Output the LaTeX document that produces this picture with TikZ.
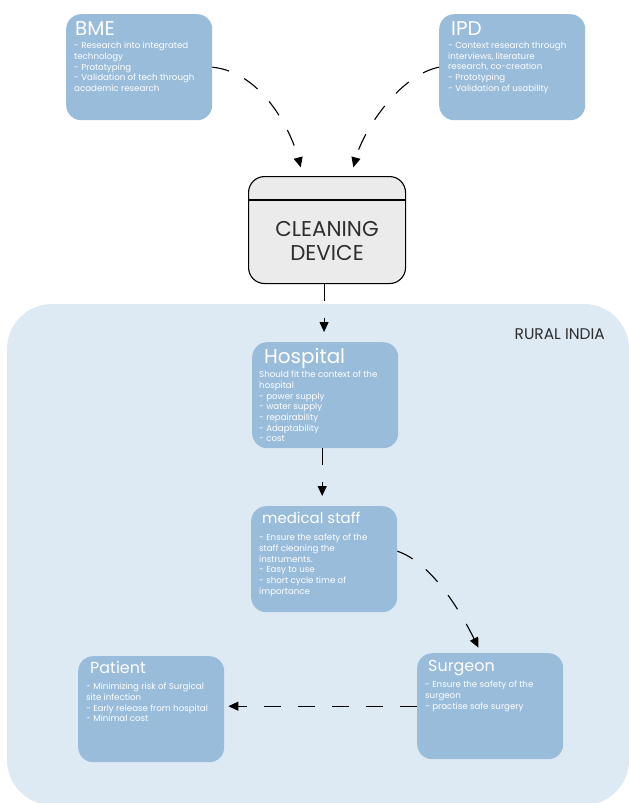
\documentclass[tikz,border=0pt]{standalone}
\usepackage{fontspec}
\setmainfont{Poppins}
\usetikzlibrary{arrows.meta,positioning,calc}
\definecolor{cardblue}{HTML}{99BCDB}
\definecolor{ruralbg}{HTML}{DDEAF4}
\definecolor{devicegray}{HTML}{EBEBEB}
\definecolor{inkgray}{HTML}{2E2E2E}
\tikzset{
    card/.style={fill=cardblue, rounded corners=15bp, anchor=north west,
        minimum width=146bp, minimum height=106bp, inner sep=0pt},
    cardhead/.style={anchor=base west, text=white, inner sep=0pt,
        font=\fontsize{20}{22}\selectfont},
    cardtext/.style={anchor=north west, text=white, inner sep=0pt, align=left,
        font=\fontsize{8.7}{10.7}\selectfont},
    devicebox/.style={draw=black, line width=1.1bp, fill=devicegray,
        rounded corners=16bp, anchor=north west, inner sep=0pt,
        minimum width=157bp, minimum height=107bp},
    linkarrow/.style={-{Triangle[length=10bp, width=9bp]}, line width=1.1bp,
        dash pattern=on 17bp off 17bp}
}

\begin{document}
\begin{tikzpicture}[x=1bp, y=-1bp]
\useasboundingbox (0,0) rectangle (629,803);

% rural area behind the lower half
\fill[ruralbg, rounded corners=45bp] (7,304) rectangle (629,805);
\node[anchor=base east, inner sep=0pt, text=inkgray,
    font=\fontsize{15.5}{17}\selectfont] (rural) at (605,339) {RURAL INDIA};

% disciplines
\node[card] (bme) at (66,14) {};
\node[cardhead] (bmehead) at ([xshift=9bp, yshift=-22bp]bme.north west) {BME};
\node[cardtext] (bmetext) at ([xshift=8bp, yshift=-28bp]bme.north west)
    {- Research into integrated\\technology\\- Prototyping\\- Validation of tech through\\academic research};

\node[card] (ipd) at (439,14) {};
\node[cardhead] (ipdhead) at ([xshift=12bp, yshift=-22bp]ipd.north west) {IPD};
\node[cardtext] (ipdtext) at ([xshift=9bp, yshift=-28bp]ipd.north west)
    {- Context research through\\interviews, literature\\research, co-creation\\- Prototyping\\- Validation of usability};

% the device
\node[devicebox] (device) at (248,176) {};
\draw[line width=1.1bp] ([yshift=-24bp]device.north west) -- ([yshift=-24bp]device.north east);
\node[align=center, text=inkgray, inner sep=0pt, font=\fontsize{21.5}{24}\selectfont]
    (devicelabel) at ([yshift=-11bp]device.center) {CLEANING\\DEVICE};

% stakeholders
\node[card] (hosp) at (252,342) {};
\node[cardhead] (hosphead) at ([xshift=12bp, yshift=-21bp]hosp.north west) {Hospital};
\node[cardtext] (hosptext) at ([xshift=7bp, yshift=-29bp]hosp.north west)
    {Should fit the context of the\\hospital\\- power supply\\- water supply\\- repairability\\- Adaptability\\- cost};

\node[card] (staff) at (251,506) {};
\node[cardhead, font=\fontsize{15}{17}\selectfont] (staffhead)
    at ([xshift=11bp, yshift=-17bp]staff.north west) {medical staff};
\node[cardtext] (stafftext) at ([xshift=8bp, yshift=-28bp]staff.north west)
    {- Ensure the safety of the\\staff cleaning the\\instruments.\\- Easy to use\\- short cycle time of\\importance};

\node[card] (surgeon) at (417,653) {};
\node[cardhead, font=\fontsize{16}{18}\selectfont] (surgeonhead)
    at ([xshift=11bp, yshift=-18bp]surgeon.north west) {Surgeon};
\node[cardtext] (surgeontext) at ([xshift=8bp, yshift=-28bp]surgeon.north west)
    {- Ensure the safety of the\\surgeon\\- practise safe surgery};

\node[card] (patient) at (78,656) {};
\node[cardhead, font=\fontsize{16}{18}\selectfont] (patienthead)
    at ([xshift=12bp, yshift=-17bp]patient.north west) {Patient};
\node[cardtext] (patienttext) at ([xshift=8bp, yshift=-27bp]patient.north west)
    {- Minimizing risk of Surgical\\site infection\\- Early release from hospital\\- Minimal cost};

% connectors
\draw[linkarrow, shorten >=9bp] (bme.east) .. controls +(50,5) and +(-12,-45) .. ([xshift=-24bp]device.north);
\draw[linkarrow, shorten >=9bp] (ipd.west) .. controls +(-40,8) and +(12,-45) .. ([xshift=24bp]device.north);
\draw[linkarrow, shorten >=10bp] ([xshift=-3bp]device.south) -- ([xshift=-3bp]device.south |- hosp.north);
\draw[linkarrow, shorten >=10bp] ([xshift=-3bp]hosp.south) -- ([xshift=-3bp]hosp.south |- staff.north);
\draw[linkarrow, shorten >=6bp] ([yshift=8bp]staff.east) .. controls +(35,12) and +(-20,-40) .. ([xshift=-9bp]surgeon.north);
\draw[linkarrow, shorten >=4bp] (surgeon.west) -- (surgeon.west -| patient.east);
\end{tikzpicture}
\end{document}
